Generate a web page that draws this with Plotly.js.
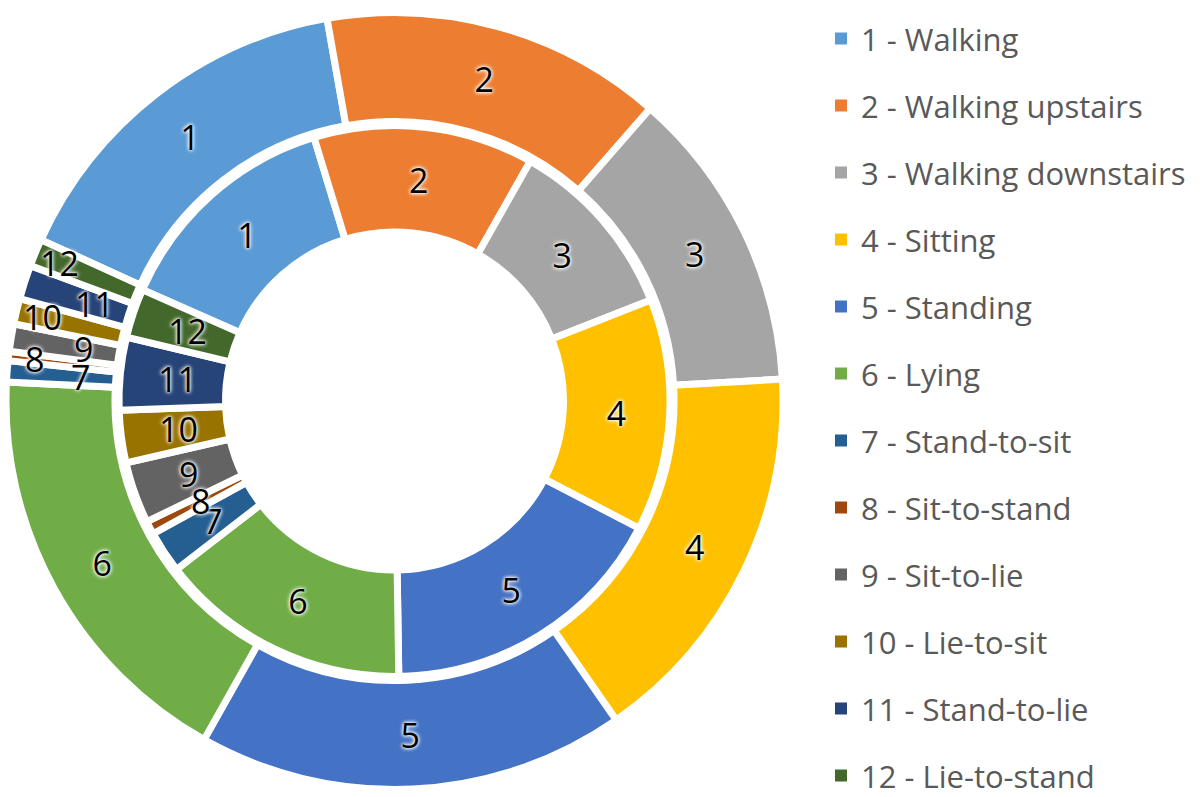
<!DOCTYPE html>
<html>
<head>
<meta charset="utf-8">
<script src="https://cdn.plot.ly/plotly-3.0.1.min.js"></script>
<style>
  html, body { margin: 0; padding: 0; background: #ffffff; }
  #chart { width: 1200px; height: 797px; }
</style>
</head>
<body>
<div id="chart"></div>
<script>
// ---- data ----
const activityNumbers = ['1', '2', '3', '4', '5', '6', '7', '8', '9', '10', '11', '12'];
const activityNames = ['Walking', 'Walking upstairs', 'Walking downstairs', 'Sitting', 'Standing', 'Lying',
  'Stand-to-sit', 'Sit-to-stand', 'Sit-to-lie', 'Lie-to-sit', 'Stand-to-lie', 'Lie-to-stand'];
// outer ring shares (%)
const outerValues = [15.42, 14.22, 12.67, 16.24, 17.82, 17.63, 0.88, 0.39, 1.14, 1.06, 1.42, 1.14];
// inner ring shares (%)
const innerValues = [13.67, 12.92, 10.83, 13.61, 17.11, 14.78, 2.47, 0.78, 3.61, 3.08, 4.25, 2.89];
const sliceColors = ['#5B9BD5', '#ED7D31', '#A5A5A5', '#FFC000', '#4472C4', '#70AD47',
  '#255E91', '#9E480E', '#636363', '#997300', '#264478', '#43682B'];

// ---- layout constants ----
const W = 1200, H = 797;
const cx = 394.5, cyTop = 401;            // ring centre in px (from top-left)
const cy = H - cyTop;                      // centre from bottom
const stroke = 7;
const outerR = 385 + stroke / 2, outerHoleR = 283 - stroke / 2;
const innerR = 272 + stroke / 2, innerHoleR = 172.5 - stroke / 2;
const outerStart = 294.5, innerStart = 293.8;   // clockwise from 12 o'clock
const smallShare = 5;                       // slices below this share get a free-placed label
const FONT = '"Open Sans", "Noto Sans", sans-serif';

// legend labels (blank lines give the legend its tall row pitch)
const legendLabels = activityNumbers.map((n, i) =>
  '\u00a0<br>\u00a0<br><span style="font-size:31px">' + n + ' - ' + activityNames[i] + '</span><br>\u00a0');

function dom(r) {
  return { x: [(cx - r) / W, (cx + r) / W], y: [(cy - r) / H, (cy + r) / H] };
}

const glow = '0px 0px 4px #ffffff, 0px 0px 4px #ffffff, 0px 0px 2px #ffffff';
const textFont = { family: FONT, size: 34, color: '#000000', shadow: glow };

function ringTrace(values, start, R, holeR) {
  return {
    type: 'pie',
    labels: legendLabels,
    values: values,
    text: activityNumbers.map((n, i) => values[i] < smallShare ? '' : n),
    textinfo: 'text',
    textposition: 'inside',
    insidetextorientation: 'horizontal',
    textfont: textFont,
    sort: false,
    direction: 'clockwise',
    rotation: start - 360,
    hole: holeR / R,
    domain: dom(R),
    marker: { colors: sliceColors, line: { color: '#ffffff', width: stroke } },
    showlegend: false,
    hoverinfo: 'none'
  };
}

// legend key: same categories and colours, without the white slice borders
const legendKey = {
  type: 'pie',
  labels: legendLabels,
  values: outerValues,
  sort: false,
  textinfo: 'none',
  hoverinfo: 'none',
  marker: { colors: sliceColors, line: { width: 0 } },
  domain: { x: [cx / W, (cx + 0.05) / W], y: [cy / H, (cy + 0.05) / H] },
  showlegend: true
};

// labels of the thin slices, placed at the slice's mid angle
function smallLabels(values, start, radiusFor) {
  const total = values.reduce((a, b) => a + b, 0);
  const out = [];
  let cum = 0;
  values.forEach((v, i) => {
    const mid = start + 360 * (cum + v / 2) / total;
    cum += v;
    if (v >= smallShare) return;
    const a = mid * Math.PI / 180;
    const r = radiusFor(i);
    out.push({
      xref: 'paper', yref: 'paper',
      x: (cx + r * Math.sin(a)) / W,
      y: (cy + r * Math.cos(a)) / H,
      xanchor: 'center', yanchor: 'middle',
      text: activityNumbers[i],
      showarrow: false,
      font: textFont
    });
  });
  return out;
}

const outerAnn = smallLabels(outerValues, outerStart, i => (i % 2 === 1 ? 362 : 315));
const innerAnn = smallLabels(innerValues, innerStart, () => 218);

const layout = {
  width: W,
  height: H,
  margin: { l: 0, r: 0, t: 0, b: 0, pad: 0 },
  paper_bgcolor: '#ffffff',
  plot_bgcolor: '#ffffff',
  showlegend: true,
  uniformtext: { mode: 'show', minsize: 34 },
  annotations: outerAnn.concat(innerAnn),
  legend: {
    x: 821 / W,
    xanchor: 'left',
    y: 1,
    yanchor: 'top',
    orientation: 'v',
    maxheight: 1000,
    bgcolor: 'rgba(0,0,0,0)',
    borderwidth: 0,
    font: { family: FONT, size: 16 / 1.3, color: '#595959' }
  }
};

Plotly.newPlot('chart', [
  ringTrace(outerValues, outerStart, outerR, outerHoleR),
  ringTrace(innerValues, innerStart, innerR, innerHoleR),
  legendKey
], layout, { staticPlot: true, displayModeBar: false });
</script>
</body>
</html>
